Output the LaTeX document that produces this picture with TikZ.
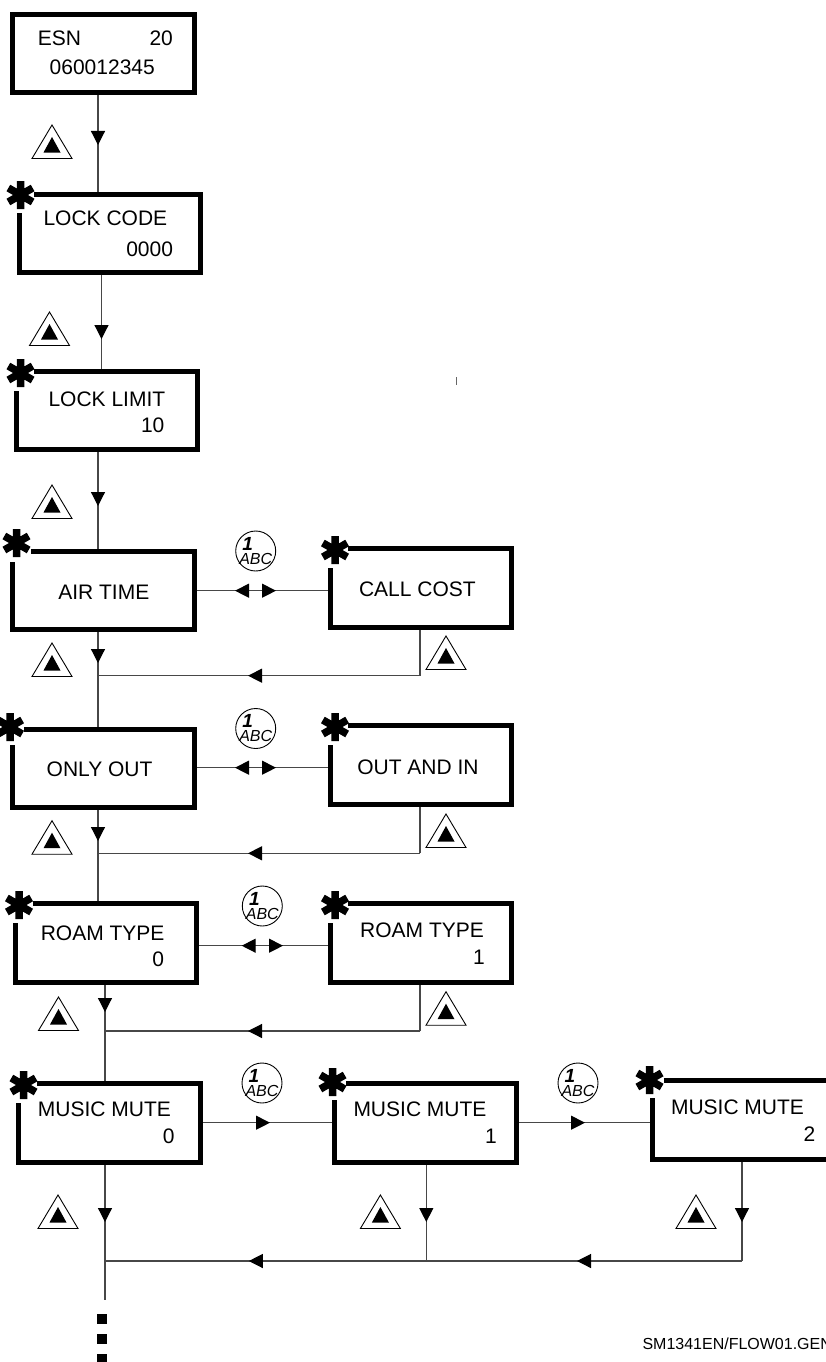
\documentclass[tikz,border=0pt]{standalone}
\usepackage{fontspec}
\setmainfont{Liberation Sans}
\usetikzlibrary{fit,arrows.meta,decorations.markings}
\tikzset{
  conn/.style={line width=1.2pt,draw=black!72},
  ahead/.tip={Triangle[width=14pt,length=14pt]},
  tipat/.style={postaction={decorate,decoration={markings,mark=at position #1pt with {\arrow[black]{ahead}}}}},
  tipboth/.style 2 args={postaction={decorate,decoration={markings,
     mark=at position #1pt with {\arrowreversed[black]{ahead}},
     mark=at position #2pt with {\arrow[black]{ahead}}}}},
  tiptwo/.style 2 args={postaction={decorate,decoration={markings,
     mark=at position #1pt with {\arrow[black]{ahead}},
     mark=at position #2pt with {\arrow[black]{ahead}}}}},
  frameline/.style={line width=5pt,draw=black,line join=miter},
  boxarea/.style={inner sep=0pt,outer sep=0pt,draw=none},
  lbl/.style={inner sep=0pt,outer sep=0pt,anchor=base west,font=\fontsize{21}{21}\selectfont},
  smalllbl/.style={inner sep=0pt,outer sep=0pt,anchor=base west,font=\fontsize{16}{16}\selectfont},
  keycircle/.style={circle,draw=black,line width=0.9pt,minimum size=40pt,inner sep=0pt,outer sep=0pt},
  keyone/.style={inner sep=0pt,font=\fontsize{19}{19}\selectfont\bfseries\itshape},
  keyabc/.style={inner sep=0pt,font=\fontsize{16}{16}\selectfont\itshape},
}
% L, R, T, B, star x, star y, left stroke start, top stroke start
\newcommand{\screenbox}[8]{%
  \draw[frameline] (#1,#7) |- (#2,#4) |- (#8,#3);
  \draw[line width=7.5pt,black] (#5,#6)+(90:14) -- +(270:14) (#5,#6)+(30:14) -- +(210:14) (#5,#6)+(150:14) -- +(330:14);
}
\newcommand{\upkey}[2]{%
  \draw[line width=0.9pt,black,line join=miter] (#1,#2) -- ++(20,33.5) -- ++(-40,0) -- cycle;
  \fill[black] (#1,#2)+(0,12) -- +(8.5,27.5) -- +(-8.5,27.5) -- cycle;
}
\newcommand{\onekey}[3]{%
  \node[keycircle] (#1) at (#2,#3) {};
  \node[keyone] (#1a) at (#2-8,#3-7.5) {1};
  \node[keyabc] (#1b) at (#2,#3+7.5) {ABC};
}
\begin{document}
\begin{tikzpicture}[x=1pt,y=-1pt]
\path[use as bounding box,clip] (0,0) rectangle (826,1362);
\fill[white] (0,0) rectangle (826,1362);

% trunk columns and junctions
\coordinate (ta) at (98,0);
\coordinate (tb) at (101.5,0);
\coordinate (tc) at (105,0);
\coordinate (ra) at (420,675.7);
\coordinate (ja) at (98,675.7);
\coordinate (rb) at (420,853.3);
\coordinate (jb) at (98,853.3);
\coordinate (rc) at (420,1031);
\coordinate (jc) at (105,1031);
\coordinate (jd) at (105,1261);
\coordinate (je) at (426.3,1261);
\coordinate (rd) at (742,1261);
\coordinate (endm) at (105,1300);
\coordinate (ya) at (0,590.7);
\coordinate (yb) at (0,767.7);
\coordinate (yc) at (0,945.7);
\coordinate (yd) at (0,1122.7);

% box areas first, so that connectors can refer to them
\node[boxarea,fit={(12.5,14.5)(194.5,92.5)}] (esn) {};
\node[boxarea,fit={(19.5,194.5)(200.5,272.5)}] (lockc) {};
\node[boxarea,fit={(16.5,371.5)(197.5,449.5)}] (lockl) {};
\node[boxarea,fit={(12.5,551.5)(194.5,629.5)}] (air) {};
\node[boxarea,fit={(330.5,548.5)(511.5,627.5)}] (cost) {};
\node[boxarea,fit={(12.5,729.5)(194.5,807.5)}] (only) {};
\node[boxarea,fit={(330.5,725.5)(511.5,804.5)}] (outin) {};
\node[boxarea,fit={(15.5,903.5)(196.5,982.5)}] (roama) {};
\node[boxarea,fit={(330.5,903.5)(511.5,982.5)}] (roamb) {};
\node[boxarea,fit={(18.5,1083.5)(200.5,1162.5)}] (musa) {};
\node[boxarea,fit={(334.5,1083.5)(516,1162.5)}] (musb) {};
\node[boxarea,fit={(652.5,1080.5)(840,1159.5)}] (musc) {};

% connectors
\draw[conn,tipat=52.5] (esn.south -| ta) -- (lockc.north -| ta);
\draw[conn,tipat=66.5] (lockc.south -| tb) -- (lockl.north -| tb);
\draw[conn,tipat=56.5] (lockl.south -| ta) -- (air.north -| ta);
\draw[conn,tipat=33.5] (air.south -| ta) -- (only.north -| ta);
\draw[conn,tipat=33.5] (only.south -| ta) -- (roama.north -| ta);
\draw[conn,tipat=29.5] (roama.south -| tc) -- (musa.north -| tc);
\draw[conn,tipat=59.5] (musa.south -| tc) -- (endm);

\draw[conn] (cost.south -| ra) -- (ra);
\draw[conn,tipat=172] (ra) -- (ja);
\draw[conn] (outin.south -| rb) -- (rb);
\draw[conn,tipat=172] (rb) -- (jb);
\draw[conn] (roamb.south -| rc) -- (rc);
\draw[conn,tipat=172] (rc) -- (jc);

\draw[conn,tipat=59.5] (musb.south -| je) -- (je);
\draw[conn,tipat=62.5] (musc.south -| rd) -- (rd);
\draw[conn,tiptwo={165}{493.2}] (rd) -- (jd);

\draw[conn,tipboth={40.5}{81.5}] (air.east |- ya) -- (cost.west |- ya);
\draw[conn,tipboth={40.5}{81.5}] (only.east |- yb) -- (outin.west |- yb);
\draw[conn,tipboth={45.2}{86.5}] (roama.east |- yc) -- (roamb.west |- yc);
\draw[conn,tipat=69.5] (musa.east |- yd) -- (musb.west |- yd);
\draw[conn,tipat=69] (musb.east |- yd) -- (musc.west |- yd);

% frames
\draw[frameline] (esn.north west) rectangle (esn.south east);
\screenbox{19.5}{200.5}{194.5}{272.5}{20.5}{195}{213}{34}
\screenbox{16.5}{197.5}{371.5}{449.5}{20.5}{373}{391}{34}
\screenbox{12.5}{194.5}{551.5}{629.5}{16.5}{543}{562}{31}
\screenbox{330.5}{511.5}{548.5}{627.5}{335}{550}{568}{348}
\screenbox{12.5}{194.5}{729.5}{807.5}{10}{727}{745}{24}
\screenbox{330.5}{511.5}{725.5}{804.5}{335}{727}{745}{348}
\screenbox{15.5}{196.5}{903.5}{982.5}{19}{905}{923}{33}
\screenbox{330.5}{511.5}{903.5}{982.5}{335}{905}{923}{348}
\screenbox{18.5}{200.5}{1083.5}{1162.5}{23.5}{1085}{1103}{37}
\screenbox{334.5}{516}{1083.5}{1162.5}{332.5}{1082}{1100}{346}
\screenbox{652.5}{840}{1080.5}{1159.5}{649.5}{1080}{1098}{664}

% labels
\node[lbl] (t1) at (37.8,45.7) {ESN};
\node[lbl] (t2) at (149.5,45.7) {20};
\node[lbl] (t3) at (49.7,75) {060012345};
\node[lbl] (t4) at (43.5,225.7) {LOCK CODE};
\node[lbl] (t5) at (126.3,256) {0000};
\node[lbl] (t6) at (48.5,406) {LOCK LIMIT};
\node[lbl] (t7) at (141,432.3) {10};
\node[lbl] (t8) at (58.3,599.3) {AIR TIME};
\node[lbl] (t9) at (359,596.7) {CALL COST};
\node[lbl] (t10) at (46.7,776.7) {ONLY OUT};
\node[lbl] (t11) at (357.3,774) {OUT AND IN};
\node[lbl] (t12) at (40.8,940) {ROAM TYPE};
\node[lbl] (t13) at (152.3,966.7) {0};
\node[lbl] (t14) at (360.2,937.3) {ROAM TYPE};
\node[lbl] (t15) at (473,964) {1};
\node[lbl] (t16) at (37.9,1116.7) {MUSIC MUTE};
\node[lbl] (t17) at (162.8,1143) {0};
\node[lbl] (t18) at (353.5,1116.7) {MUSIC MUTE};
\node[lbl] (t19) at (485,1143) {1};
\node[lbl] (t20) at (671,1114.3) {MUSIC MUTE};
\node[lbl] (t21) at (803.5,1141.7) {2};
\node[smalllbl] (t22) at (642.5,1349) {SM1341EN/FLOW01.GEN};

% key symbols
\upkey{52}{125}
\upkey{49.5}{312}
\upkey{52}{485}
\upkey{52}{643}
\upkey{446}{636}
\upkey{52}{820.7}
\upkey{446}{814}
\upkey{58.5}{997}
\upkey{446}{991.7}
\upkey{58}{1195}
\upkey{380.4}{1195}
\upkey{696}{1195}
\onekey{ka}{255.7}{551}
\onekey{kb}{255.7}{728.5}
\onekey{kc}{262.3}{906}
\onekey{kd}{262}{1083}
\onekey{ke}{578}{1083}

% continuation marks and stray tick
\fill[black] (97,1314) rectangle (107,1324);
\fill[black] (97,1334) rectangle (107,1344);
\fill[black] (97,1354) rectangle (107,1364);
\draw[line width=0.9pt,black!60] (456.7,377) -- (456.7,385);
\end{tikzpicture}
\end{document}
